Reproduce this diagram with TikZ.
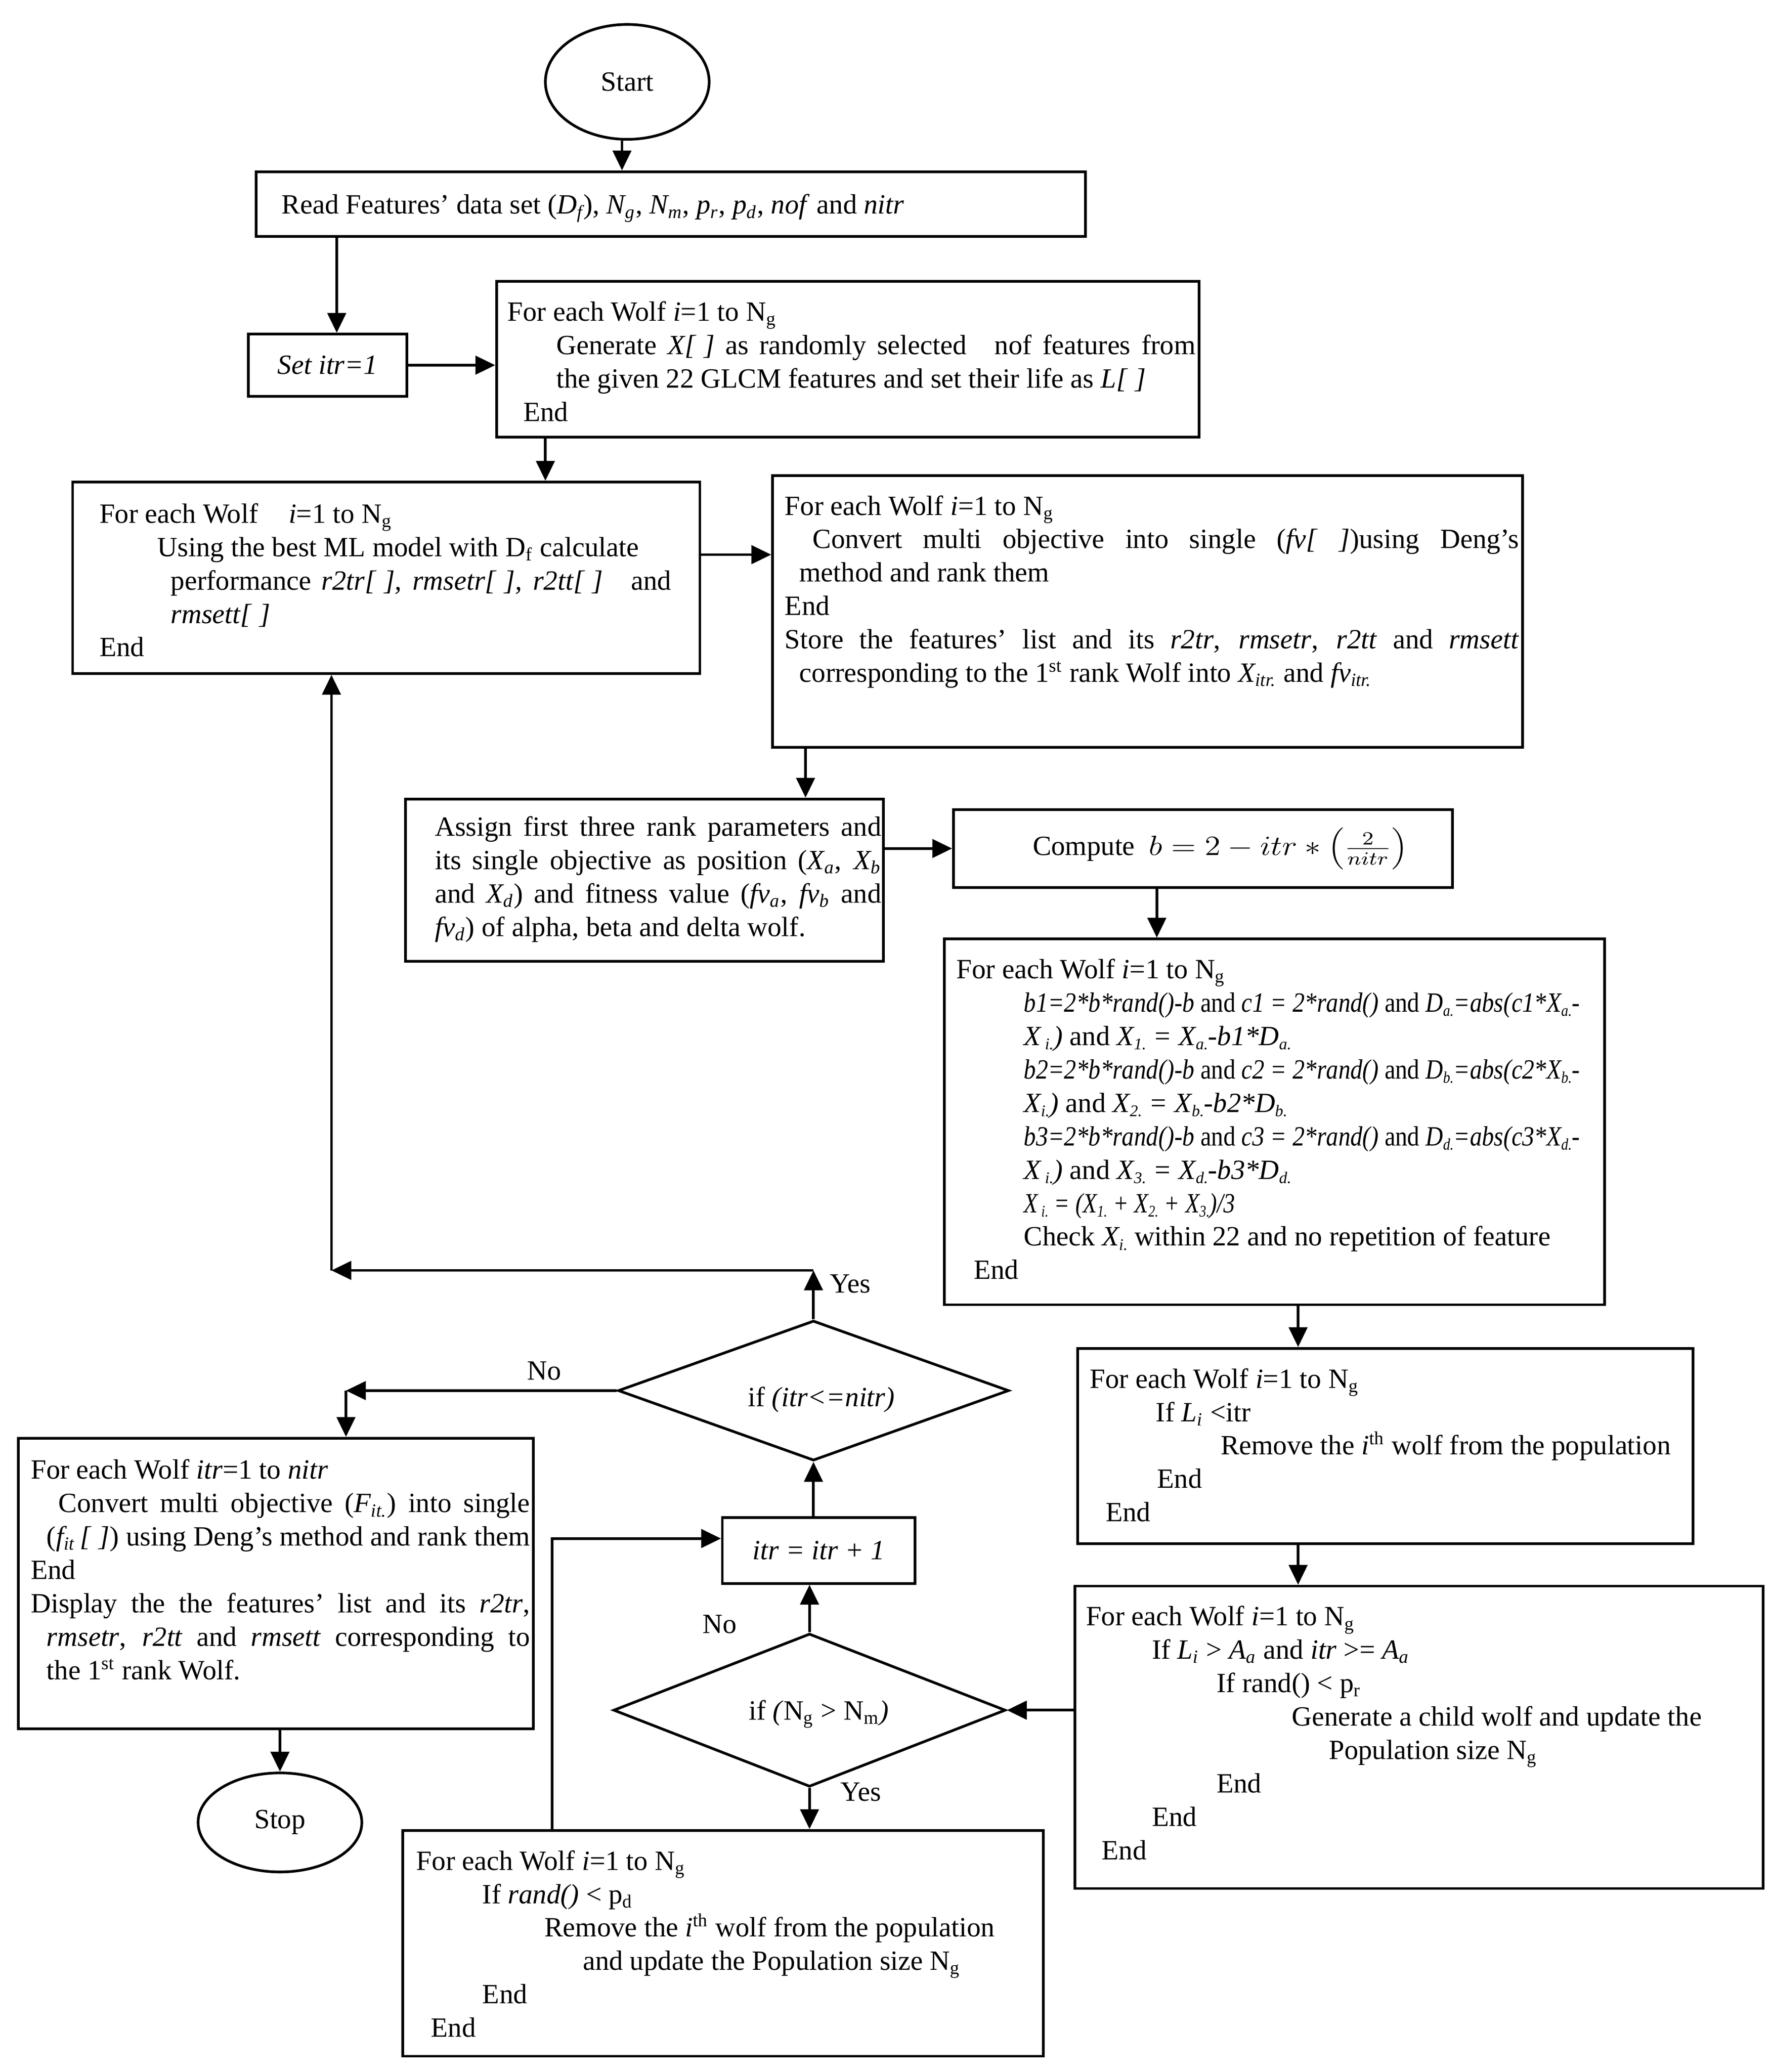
\documentclass[tikz,border=0pt]{standalone}
\usepackage{fontspec}
\usepackage{graphicx}
\setmainfont{Liberation Serif}
\usetikzlibrary{shapes.geometric,arrows.meta,calc}
\newlength\pxu
\setlength\pxu{0.02cm}
\newcommand\ind[1]{\hspace*{#1\pxu}}
\newcommand\jl[2]{\makebox[#1\pxu][s]{#2}}
\newcommand\fw[2]{\resizebox{#1\pxu}{\height}{#2}}
\newcommand\ts[1]{\raisebox{-1.8pt}{\fontsize{7}{7}\selectfont #1}}
\newcommand\Ngg{N\textsubscript{g}}
\newcommand\bk{[\kern0.3em]}
\newcommand\blk[1]{\parbox[t]{560\pxu}{\fontsize{12}{14.4}\selectfont #1}}
\begin{document}
\begin{tikzpicture}[x=0.02cm,y=-0.02cm,
  every node/.style={font=\fontsize{12}{14.4}\selectfont},
  box/.style={draw,line width=1.15pt,inner sep=0pt,anchor=north west},
  tb/.style={anchor=base west,inner sep=0pt},
  term/.style={draw,ellipse,line width=1.15pt,inner sep=0pt},
  dec/.style={draw,diamond,aspect=2.8,line width=1.15pt,inner sep=0pt},
  lbl/.style={inner sep=0pt},
  arr/.style={-{Triangle[length=3mm,width=2.8mm]},line width=1.15pt}]
\useasboundingbox (0,0) rectangle (1340,1569);

% terminals
\node[term,minimum width=124\pxu,minimum height=87\pxu] (start) at (475,62) {Start};
\node[term,minimum width=124\pxu,minimum height=75\pxu] (stop) at (212,1380) {Stop};

% boxes
\node[box,minimum width=628\pxu,minimum height=49\pxu] (read) at (193,129) {};
\node[tb] (tread) at (213,162) {Read Features’ data set (\textit{D\textsubscript{f}}), \textit{N\textsubscript{g}}, \textit{N\textsubscript{m}}, \textit{p\textsubscript{r}}, \textit{p\textsubscript{d}}, \textit{nof} and \textit{nitr}};

\node[box,minimum width=120\pxu,minimum height=47\pxu] (setitr) at (187,252) {};
\node[lbl] (tsetitr) at (setitr.center) {\textit{Set itr=1}};

\node[box,minimum width=532\pxu,minimum height=118\pxu] (b2) at (375,212) {};
\node[tb] (t2) at (384,243) {\blk{For each Wolf \textit{i}=1 to \Ngg\\
\ind{37}\jl{484}{Generate \textit{X\bk} as randomly selected\quad nof features from}\\
\ind{37}the given 22 GLCM features and set their life as \textit{L\bk}\\
\ind{12}End}};

\node[box,minimum width=475\pxu,minimum height=145\pxu] (b3) at (54,364) {};
\node[tb] (t3) at (75,396) {\blk{For each Wolf\hspace{1.1em}\textit{i}=1 to \Ngg\\
\ind{44}Using the best ML model with D\textsubscript{f} calculate\\
\ind{54}\jl{379}{performance \textit{r2tr\bk, rmsetr\bk, r2tt\bk}\quad and}\\
\ind{54}\textit{rmsett\bk}\\
End}};

\node[box,minimum width=568\pxu,minimum height=206\pxu] (b4) at (584,359) {};
\node[tb] (t4) at (594,390) {\blk{For each Wolf \textit{i}=1 to \Ngg\\
\ind{21}\jl{535}{Convert multi objective into single (\textit{fv[\kern0.8em]})using Deng’s}\\
\ind{11}method and rank them\\
End\\
\jl{556}{Store the features’ list and its \textit{r2tr}, \textit{rmsetr}, \textit{r2tt} and \textit{rmsett}}\\
\ind{11}corresponding to the 1\textsuperscript{st} rank Wolf into \textit{X\textsubscript{itr.}} and \textit{fv\textsubscript{itr.}}}};

\node[box,minimum width=362\pxu,minimum height=123\pxu] (b5) at (306,604) {};
\node[tb] (t5) at (329,633) {\blk{\jl{338}{Assign first three rank parameters and}\\
\jl{338}{its single objective as position (\textit{X\textsubscript{a}}, \textit{X\textsubscript{b}}}\\
\jl{338}{and \textit{X\textsubscript{d}}) and fitness value (\textit{fv\textsubscript{a}}, \textit{fv\textsubscript{b}} and}\\
\textit{fv\textsubscript{d}}) of alpha, beta and delta wolf.}};

\node[box,minimum width=378\pxu,minimum height=59\pxu] (b6) at (721,612) {};
\node[lbl] (t6) at ($(b6.center)+(13,0)$) {Compute\ \ \fw{196}{$b = 2 - itr * \left(\frac{2}{nitr}\right)$}};

\node[box,minimum width=500\pxu,minimum height=277\pxu] (b7) at (714,710) {};
\node[tb] (t7) at (724,741) {\blk{For each Wolf \textit{i}=1 to \Ngg\\
\ind{51}\fw{421}{\textit{b1=2*b*rand()-b} and \textit{c1 = 2*rand()} and \textit{D\ts{a.}=abs(c1*X\ts{a.}-}}\\
\ind{51}\textit{X\ts{ i.})} and \textit{X\ts{1.} = X\ts{a.}-b1*D\ts{a.}}\\
\ind{51}\fw{421}{\textit{b2=2*b*rand()-b} and \textit{c2 = 2*rand()} and \textit{D\ts{b.}=abs(c2*X\ts{b.}-}}\\
\ind{51}\textit{X\ts{i.})} and \textit{X\ts{2.} = X\ts{b.}-b2*D\ts{b.}}\\
\ind{51}\fw{421}{\textit{b3=2*b*rand()-b} and \textit{c3 = 2*rand()} and \textit{D\ts{d.}=abs(c3*X\ts{d.}-}}\\
\ind{51}\textit{X\ts{ i.})} and \textit{X\ts{3.} = X\ts{d.}-b3*D\ts{d.}}\\
\ind{51}\fw{160}{\textit{X\ts{ i.} = (X\ts{1.} + X\ts{2.} + X\ts{3.})/3}}\\
\ind{51}Check \textit{X\ts{i.}} within 22 and no repetition of feature\\
\ind{13}End}};

\node[box,minimum width=466\pxu,minimum height=148\pxu] (b8) at (815,1020) {};
\node[tb] (t8) at (825,1051) {\blk{For each Wolf \textit{i}=1 to \Ngg\\
\ind{50}If \textit{L\textsubscript{i}} <itr\\
\ind{99}Remove the \textit{i}\textsuperscript{th} wolf from the population\\
\ind{51}End\\
\ind{12}End}};

\node[box,minimum width=521\pxu,minimum height=229\pxu] (b9) at (813,1200) {};
\node[tb] (t9) at (822,1231) {\blk{For each Wolf \textit{i}=1 to \Ngg\\
\ind{50}If \textit{L\textsubscript{i}} > \textit{A\textsubscript{a}} and \textit{itr} >= \textit{A\textsubscript{a}}\\
\ind{99}If rand() < p\textsubscript{r}\\
\ind{156}Generate a child wolf and update the\\
\ind{184}Population size \Ngg\\
\ind{99}End\\
\ind{50}End\\
\ind{12}End}};

\node[box,minimum width=485\pxu,minimum height=171\pxu] (b10) at (304,1385) {};
\node[tb] (t10) at (315,1416) {\blk{For each Wolf \textit{i}=1 to \Ngg\\
\ind{50}If \textit{rand()} < p\textsubscript{d}\\
\ind{97}Remove the \textit{i}\textsuperscript{th} wolf from the population\\
\ind{126}and update the Population size \Ngg\\
\ind{50}End\\
\ind{11}End}};

\node[box,minimum width=390\pxu,minimum height=220\pxu] (b11) at (13,1088) {};
\node[tb] (t11) at (23,1120) {\blk{For each Wolf \textit{itr}=1 to \textit{nitr}\\
\ind{21}\jl{357}{Convert multi objective (\textit{F\textsubscript{it.}}) into single}\\
\ind{12}\jl{366}{(\textit{f\textsubscript{it}\,\bk}) using Deng’s method and rank them}\\
End\\
\jl{378}{Display the the features’ list and its \textit{r2tr},}\\
\ind{12}\jl{366}{\textit{rmsetr}, \textit{r2tt} and \textit{rmsett} corresponding to}\\
\ind{12}the 1\textsuperscript{st} rank Wolf.}};

\node[box,minimum width=146\pxu,minimum height=50\pxu] (itr) at (546,1148) {};
\node[lbl] (titr) at (itr.center) {\textit{itr = itr + 1}};

% decisions
\node[dec,minimum width=296\pxu,minimum height=106\pxu] (d1) at (616,1053) {};
\node[lbl] (td1) at (622,1060) {if \textit{(itr<=nitr)}};
\node[dec,minimum width=297\pxu,minimum height=116\pxu] (d2) at (613,1295) {};
\node[lbl] (td2) at (620,1298) {if \textit{(}N\textsubscript{g} > N\textsubscript{m}\textit{)}};

% labels
\node[lbl] (yes1) at (644,972) {Yes};
\node[lbl] (no1) at (412,1038) {No};
\node[lbl] (no2) at (545,1230) {No};
\node[lbl] (yes2) at (652,1357) {Yes};

% connectors
\coordinate (p1) at ($(start.south)+(-4,0)$);
\draw[arr] (p1) -- (p1 |- read.north);
\coordinate (p2) at ($(read.south west)+(62,0)$);
\draw[arr] (p2) -- (p2 |- setitr.north);
\draw[arr] (setitr.east) -- (setitr.east -| b2.west);
\coordinate (p4) at ($(b2.south west)+(38,0)$);
\draw[arr] (p4) -- (p4 |- b3.north);
\coordinate (p5) at ($(b3.north east)+(0,56)$);
\draw[arr] (p5) -- (p5 -| b4.west);
\coordinate (p6) at ($(b4.south west)+(26,0)$);
\draw[arr] (p6) -- (p6 |- b5.north);
\draw[arr] (b6.west -| b5.east) -- (b6.west);
\coordinate (p8) at ($(b6.south west)+(155,0)$);
\draw[arr] (p8) -- (p8 |- b7.north);
\coordinate (p9) at ($(b7.south west)+(269,0)$);
\draw[arr] (p9) -- (p9 |- b8.north);
\draw[arr] (p9 |- b8.south) -- (p9 |- b9.north);
\draw[arr] (d2.east -| b9.west) -- (d2.east);
\draw[arr] (d2.north) -- (d2.north |- itr.south);
\draw[arr] (d2.south) -- (d2.south |- b10.north);
\coordinate (p14) at ($(b10.north west)+(114,0)$);
\draw[arr] (p14) |- ($(itr.west)+(0,-9)$);
\draw[arr] (d1.south |- itr.north) -- (d1.south);
\coordinate (yc) at ($(d1.north)+(0,-37)$);
\draw[arr] (d1.north) -- (yc);
\coordinate (p16) at ($(b3.south west)+(197,0)$);
\coordinate (lc) at (p16 |- yc);
\draw[arr] (yc) -- (lc);
\draw[arr] (lc) -- (p16);
\coordinate (p17) at ($(b11.north west)+(249,0)$);
\coordinate (nc) at (p17 |- d1.west);
\draw[arr] (d1.west) -- (nc);
\draw[arr] (nc) -- (p17);
\draw[arr] (stop.north |- b11.south) -- (stop.north);
\end{tikzpicture}
\end{document}
